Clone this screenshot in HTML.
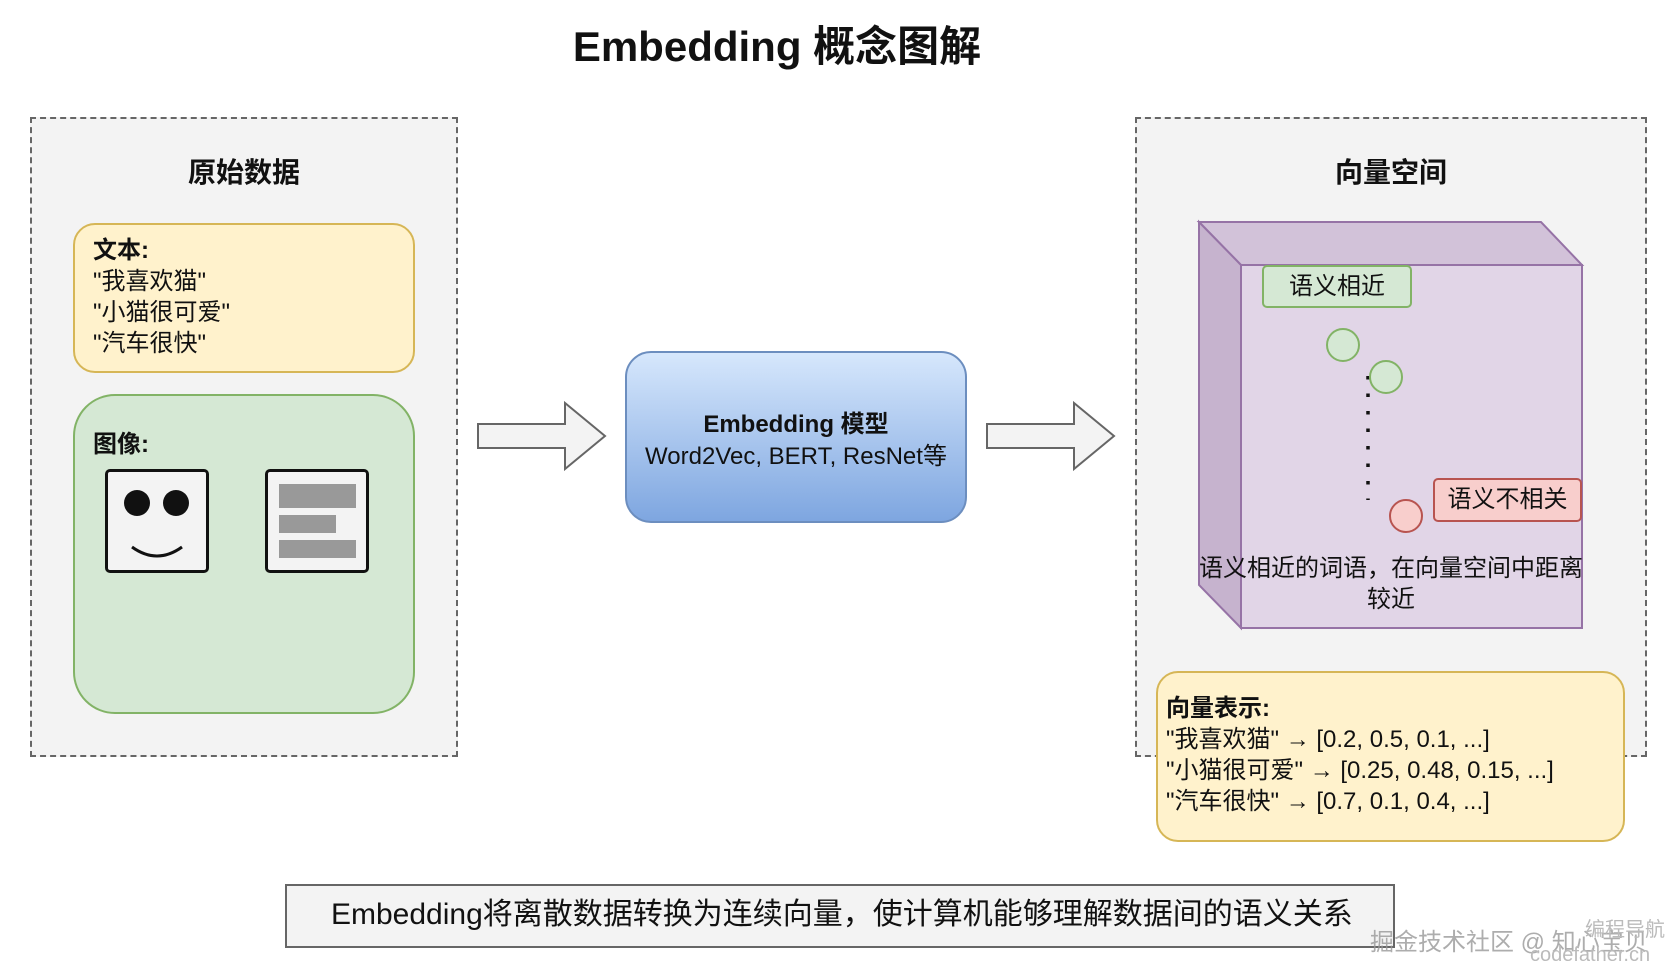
<!DOCTYPE html>
<html><head><meta charset="utf-8"><style>
body{margin:0;width:1676px;height:976px;background:#fff;position:relative;overflow:hidden;font-family:"Liberation Sans","Noto Sans CJK SC",sans-serif;color:#111}
.a{position:absolute;box-sizing:border-box}
.t{position:absolute;white-space:nowrap}
</style></head><body>
<div class="t" style="left:0;width:1554px;text-align:center;top:13px;font-size:42px;font-weight:bold">Embedding 概念图解</div>

<div class="a" style="left:30px;top:117px;width:428px;height:640px;background:#f3f3f3;border:2px dashed #666"></div>
<div class="t" style="left:30px;width:428px;text-align:center;top:151px;font-size:28px;font-weight:bold">原始数据</div>
<div class="a" style="left:73px;top:223px;width:342px;height:150px;background:#fff2cc;border:2px solid #d6b656;border-radius:22px"></div>
<div class="t" style="left:93px;top:235px;font-size:24px;line-height:31px">
<b>文本:</b><br>"我喜欢猫"<br>"小猫很可爱"<br>"汽车很快"</div>
<div class="a" style="left:73px;top:394px;width:342px;height:320px;background:#d5e8d4;border:2px solid #82b366;border-radius:42px"></div>
<div class="t" style="left:93px;top:424px;font-size:24px;font-weight:bold">图像:</div>
<div class="a" style="left:105px;top:469px;width:104px;height:104px;background:#f3f3f3;border:3px solid #111;border-radius:5px"></div>
<div class="a" style="left:124px;top:490px;width:26px;height:26px;background:#111;border-radius:50%"></div>
<div class="a" style="left:163px;top:490px;width:26px;height:26px;background:#111;border-radius:50%"></div>
<svg class="a" style="left:105px;top:469px" width="104" height="104"><path d="M27 78 Q52 96 77 78" fill="none" stroke="#111" stroke-width="3"/></svg>
<div class="a" style="left:265px;top:469px;width:104px;height:104px;background:#f3f3f3;border:3px solid #111;border-radius:5px"></div>
<div class="a" style="left:279px;top:484px;width:77px;height:24px;background:#999"></div>
<div class="a" style="left:279px;top:515px;width:57px;height:18px;background:#999"></div>
<div class="a" style="left:279px;top:540px;width:77px;height:18px;background:#999"></div>

<svg class="a" style="left:0;top:0" width="1676" height="976">
<path d="M478 424 H565 V403 L605 436 L565 469 V448 H478 Z" fill="#f3f3f3" stroke="#666" stroke-width="2"/>
<path d="M987 424 H1074 V403 L1114 436 L1074 469 V448 H987 Z" fill="#f3f3f3" stroke="#666" stroke-width="2"/>
</svg>

<div class="a" style="left:625px;top:351px;width:342px;height:172px;background:linear-gradient(#d6e7fc,#7ea6e0);border:2px solid #6c8ebf;border-radius:26px"></div>
<div class="t" style="left:625px;width:342px;text-align:center;top:404px;font-size:24px;font-weight:bold">Embedding 模型</div>
<div class="t" style="left:625px;width:342px;text-align:center;top:436px;font-size:24px">Word2Vec, BERT, ResNet等</div>

<div class="a" style="left:1135px;top:117px;width:512px;height:640px;background:#f3f3f3;border:2px dashed #666"></div>
<div class="t" style="left:1135px;width:512px;text-align:center;top:151px;font-size:28px;font-weight:bold">向量空间</div>
<svg class="a" style="left:-6px;top:-2px" width="1676" height="976">
<path d="M1205 224 H1547 L1588 267 H1247 Z" fill="#d2c2d9" stroke="#9673a6" stroke-width="2"/>
<path d="M1205 224 L1247 267 V630 L1205 587 Z" fill="#c6b3ce" stroke="#9673a6" stroke-width="2"/>
<rect x="1247" y="267" width="341" height="363" fill="#e1d5e7" stroke="#9673a6" stroke-width="2"/>
<line x1="1374" y1="378" x2="1374" y2="502" stroke="#111" stroke-width="3.5" stroke-dasharray="3.5 14"/>
<circle cx="1349" cy="347" r="16" fill="#d5e8d4" stroke="#82b366" stroke-width="2"/>
<circle cx="1392" cy="379" r="16" fill="#d5e8d4" stroke="#82b366" stroke-width="2"/>
<circle cx="1412" cy="518" r="16" fill="#f8cecc" stroke="#b85450" stroke-width="2"/>
</svg>
<div class="a" style="left:1262px;top:265px;width:150px;height:43px;background:#d5e8d4;border:2px solid #82b366;border-radius:5px;font-size:24px;text-align:center;line-height:39px">语义相近</div>
<div class="a" style="left:1433px;top:478px;width:149px;height:44px;background:#f8cecc;border:2px solid #b85450;border-radius:5px;font-size:24px;text-align:center;line-height:40px">语义不相关</div>
<div class="t" style="left:1135px;width:512px;text-align:center;top:553px;font-size:24px;line-height:31px">语义相近的词语，在向量空间中距离<br>较近</div>

<div class="a" style="left:1156px;top:671px;width:469px;height:171px;background:#fff2cc;border:2px solid #d6b656;border-radius:22px"></div>
<div class="t" style="left:1166px;top:693px;font-size:24px;line-height:31px"><b>向量表示:</b><br>"我喜欢猫" → [0.2, 0.5, 0.1, ...]<br>"小猫很可爱" → [0.25, 0.48, 0.15, ...]<br>"汽车很快" → [0.7, 0.1, 0.4, ...]</div>

<div class="a" style="left:285px;top:884px;width:1110px;height:64px;background:#f3f3f3;border:2px solid #666"></div>
<div class="t" style="left:331px;top:897px;font-size:30px;line-height:36px">Embedding将离散数据转换为连续向量，使计算机能够理解数据间的语义关系</div>
<div class="t" style="left:1370px;top:922px;font-size:24px;color:#999;opacity:.8">掘金技术社区 @ 知心宝贝</div>
<div class="t" style="left:1585px;top:913px;font-size:20px;color:#bbb">编程导航</div>
<div class="t" style="left:1530px;top:944px;font-size:20px;color:#bbb">codefather.cn</div>
</body></html>
